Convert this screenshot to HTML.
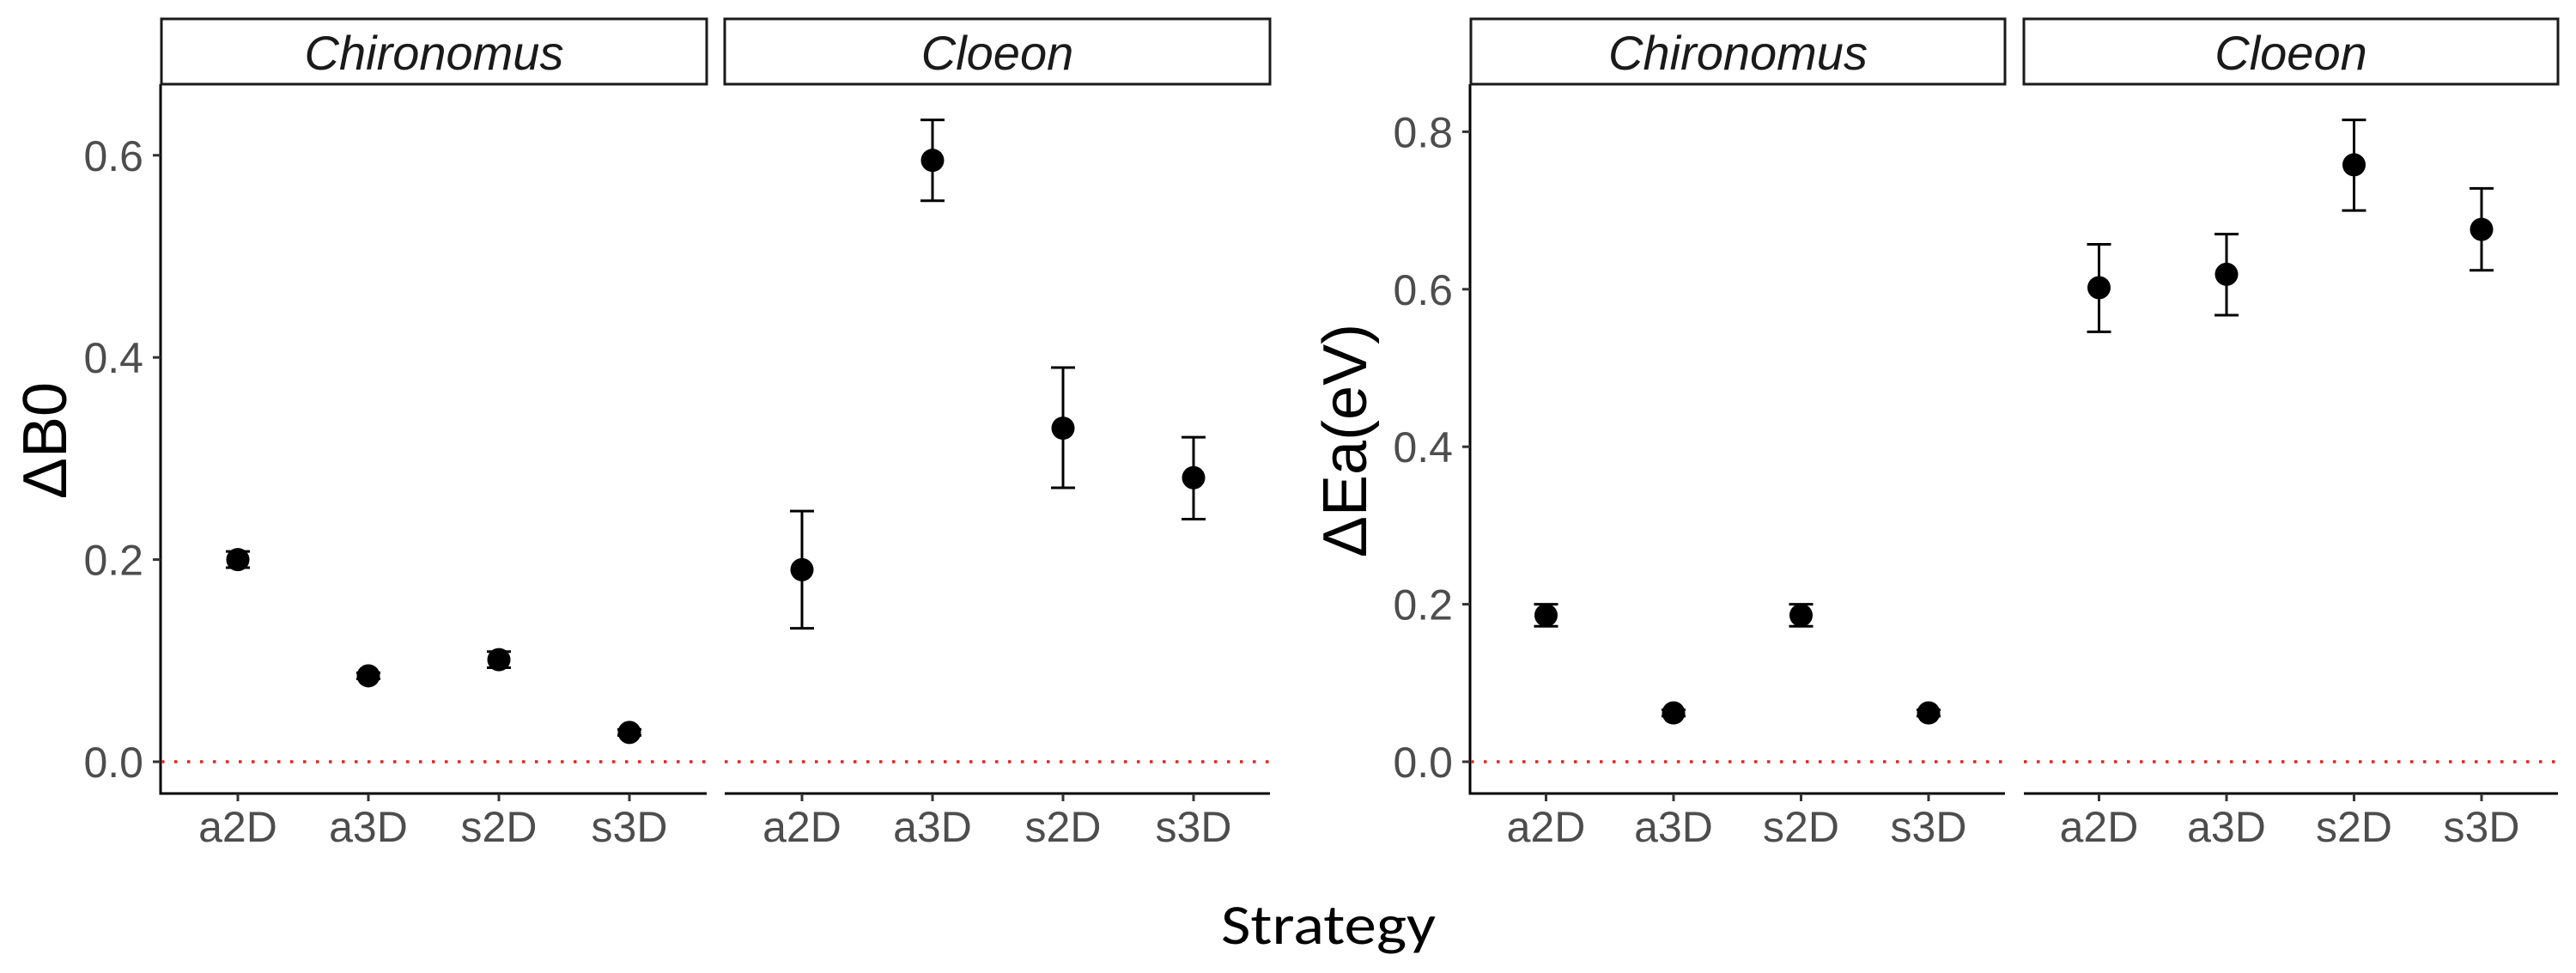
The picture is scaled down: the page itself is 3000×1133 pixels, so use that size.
<!DOCTYPE html>
<html><head><meta charset="utf-8"><style>
html,body{margin:0;padding:0;background:#fff;}
svg{display:block;}
</style></head><body>
<svg id="chart" width="3000" height="1133" xmlns="http://www.w3.org/2000/svg" font-family="Liberation Sans, sans-serif"></svg>
<script>
const categories = ["a2D","a3D","s2D","s3D"];
const facets = ["Chironomus","Cloeon"];
// Panel 1: ΔB0
const b0Chiro = [0.200, 0.085, 0.101, 0.029];
const b0ChiroLo = [0.192, 0.082, 0.093, 0.026];
const b0ChiroHi = [0.208, 0.088, 0.109, 0.032];
const b0Cloeon = [0.190, 0.595, 0.330, 0.281];
const b0CloeonLo = [0.132, 0.555, 0.271, 0.240];
const b0CloeonHi = [0.248, 0.635, 0.390, 0.321];
const b0Ticks = [0.0, 0.2, 0.4, 0.6];
const b0TickLabels = ["0.0","0.2","0.4","0.6"];
// Panel 2: ΔEa(eV)
const eaChiro = [0.186, 0.062, 0.186, 0.062];
const eaChiroLo = [0.172, 0.058, 0.172, 0.058];
const eaChiroHi = [0.200, 0.066, 0.200, 0.066];
const eaCloeon = [0.602, 0.619, 0.758, 0.676];
const eaCloeonLo = [0.546, 0.567, 0.700, 0.624];
const eaCloeonHi = [0.657, 0.670, 0.815, 0.728];
const eaTicks = [0.0, 0.2, 0.4, 0.6, 0.8];
const eaTickLabels = ["0.0","0.2","0.4","0.6","0.8"];

const svg = document.getElementById('chart');
const NS = "http://www.w3.org/2000/svg";
function mk(tag, attrs, parent){
  const e = document.createElementNS(NS, tag);
  for (const k in attrs) e.setAttribute(k, attrs[k]);
  (parent||svg).appendChild(e);
  return e;
}

function drawPlot(cfg){
  const g = mk('g', {});
  
  
  const y = v => cfg.y0 - v * cfg.pxPerUnit;
  const ax = mk('line', {x1:cfg.axisX, y1:cfg.top, x2:cfg.axisX, y2:cfg.bottom+1.5, stroke:'#000', 'stroke-width':3}, g);
  
  
  cfg.ticks.forEach((t,i)=>{
    const tk = mk('line', {x1:cfg.axisX-9, y1:y(t), x2:cfg.axisX, y2:y(t), stroke:'#333', 'stroke-width':3}, g);
    
    
    const tl = mk('text', {x:cfg.axisX-20, y:y(t)+18, 'text-anchor':'end', 'font-size':50, fill:'#4d4d4d'}, g);
    tl.textContent = cfg.tickLabels[i];
    
    
  });
  const yt = mk('text', {transform:`translate(${cfg.titleX},${cfg.titleY}) rotate(-90)`, 'text-anchor':'middle', 'font-size':72, fill:'#000'}, g);
  yt.textContent = cfg.title;
  
  
  cfg.facets.forEach((f, fi)=>{
    const fx0 = f.x0, fx1 = f.x1;
    const xPos = i => f.firstX + i * cfg.step;
    const sr = mk('rect', {x:fx0, y:22, width:fx1-fx0, height:76, fill:'#fff', stroke:'#1a1a1a', 'stroke-width':3}, g);
    
    
    const st = mk('text', {x:(fx0+fx1)/2, y:81, 'text-anchor':'middle', 'font-size':56, 'font-style':'italic', fill:'#1a1a1a'}, g);
    st.textContent = facets[fi];
    
    
    const xa = mk('line', {x1:fx0, y1:cfg.bottom, x2:fx1, y2:cfg.bottom, stroke:'#000', 'stroke-width':3}, g);
    
    
    const rl = mk('line', {x1:fx0, y1:y(0), x2:fx1, y2:y(0), stroke:'#e8231b', 'stroke-width':3.5, 'stroke-dasharray':'3.5 11.5'}, g);
    
    
    categories.forEach((c,i)=>{
      const x = xPos(i);
      const tk = mk('line', {x1:x, y1:cfg.bottom, x2:x, y2:cfg.bottom+9, stroke:'#333', 'stroke-width':3}, g);
      
      
      const tl = mk('text', {x:x, y:980, 'text-anchor':'middle', 'font-size':50, fill:'#4d4d4d'}, g);
      tl.textContent = c;
      
      
      const lo = f.lo[i], hi = f.hi[i], v = f.vals[i];
      const eb = mk('path', {d:`M${x-14},${y(hi)}H${x+14}M${x},${y(hi)}V${y(lo)}M${x-14},${y(lo)}H${x+14}`, stroke:'#000', 'stroke-width':3, fill:'none'}, g);
      
      
      const pt = mk('circle', {cx:x, cy:y(v), r:13.5, fill:'#000'}, g);
      
      
    });
  });
}

drawPlot({name:'panel-delta-b0', axisX:187, top:98, bottom:924, y0:887, pxPerUnit:1177,
  ticks:b0Ticks, tickLabels:b0TickLabels, title:'ΔB0', titleX:77, titleY:513, step:152,
  facets:[
    {x0:188, x1:823, firstX:277, vals:b0Chiro, lo:b0ChiroLo, hi:b0ChiroHi},
    {x0:844, x1:1479, firstX:934, vals:b0Cloeon, lo:b0CloeonLo, hi:b0CloeonHi}
  ]});
drawPlot({name:'panel-delta-ea', axisX:1712, top:98, bottom:924, y0:887, pxPerUnit:917,
  ticks:eaTicks, tickLabels:eaTickLabels, title:'ΔEa(eV)', titleX:1591, titleY:513, step:148.5,
  facets:[
    {x0:1713, x1:2335, firstX:1800.5, vals:eaChiro, lo:eaChiroLo, hi:eaChiroHi},
    {x0:2357, x1:2979, firstX:2444.5, vals:eaCloeon, lo:eaCloeonLo, hi:eaCloeonHi}
  ]});

const xt = mk('text', {x:1547, y:1099, 'text-anchor':'middle', 'font-size':66, fill:'#000', textLength:250, lengthAdjust:'spacingAndGlyphs', 'font-family':'Carlito, Liberation Sans, sans-serif'});
xt.textContent = 'Strategy';


</script>
</body></html>
